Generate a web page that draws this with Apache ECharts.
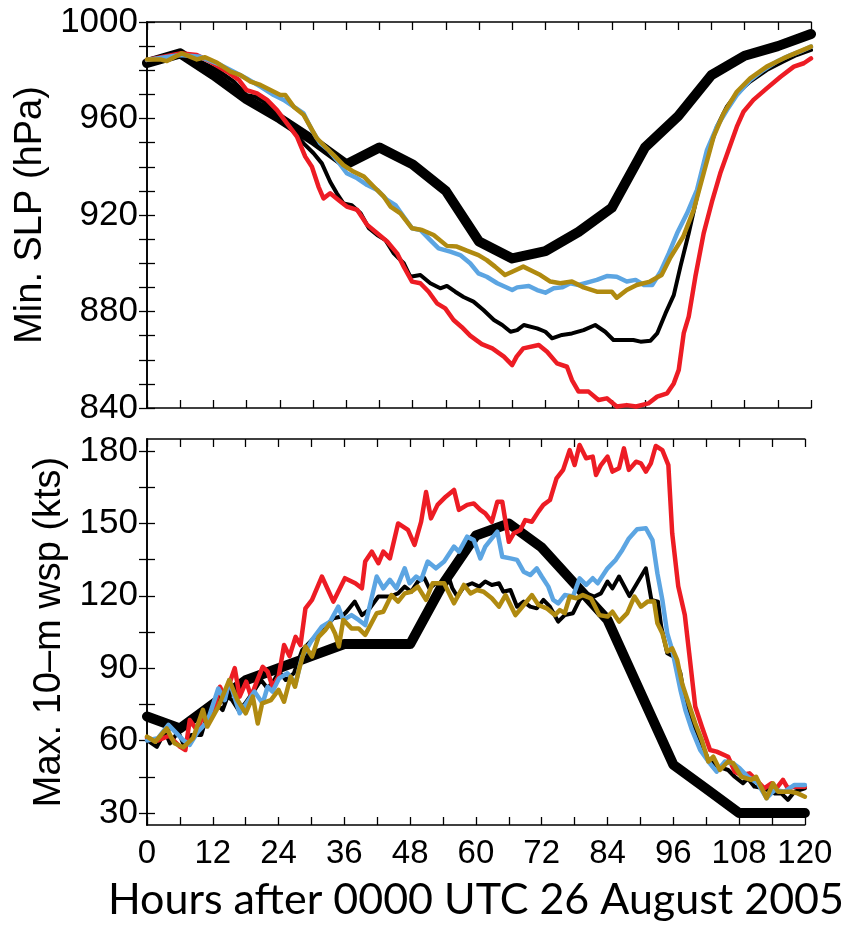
<!DOCTYPE html>
<html><head><meta charset="utf-8">
<script src="https://cdn.jsdelivr.net/npm/echarts@6/dist/echarts.min.js"></script>
<style>html,body{margin:0;padding:0;background:#fff}#c{width:846px;height:929px}</style>
</head><body><div id="c"></div>
<script>
// ---------- DATA ----------
const bestHours = [0,6,12,18,24,30,36,42,48,54,60,66,72,78,84,90,96,102,108,114,120];
const slpBest = [983,987,978,968,960,951,941,948,941,930,909,902,905,913,923,948,961,978,986,990,995];
const wspBest = [70,65,75,85,90,95,100,100,100,125,145,150,140,125,110,80,50,40,30,30,30];

// [hour, hPa]
const slpBlack = [[0,983.6],[6,986.3],[9.6,983.6],[12.7,980.1],[15.7,975.3],[18,969.7],[19.6,969],[21.1,967],[22.9,963.5],[24.7,960],[26.5,954.5],[28.3,949.7],[30.1,945.6],[31.6,941.4],[33.1,933.8],[34.3,929],[35.5,924.8],[37,924.1],[38.6,920.7],[40.1,914.5],[41.6,911.7],[43.1,909.6],[44.6,904.1],[46.4,900],[47.6,894.4],[49.4,895.1],[51.2,891.7],[53,889.6],[54.2,890.6],[55.7,888.2],[57.2,886],[59,884.1],[60.8,880.6],[62.7,876.5],[64.2,874.4],[65.7,871.6],[66.9,872.3],[68.1,874.4],[70.5,873],[72,871.6],[73.2,868.9],[75,870.3],[76.8,870.9],[78.9,872.3],[81,874.4],[82.8,871.6],[84.3,868.2],[86.1,868.2],[87.9,868.2],[89.2,867.5],[91,867.9],[92.2,870.9],[93.7,879.2],[95.2,886.8],[96.4,898.6],[97.9,912.4],[99.4,927.6],[101.2,944.2],[103,956.6],[104.8,964.9],[106.6,970.4],[109,975.3],[112,980.1],[115,983.6],[117.4,986.3],[120,988.4]];
const slpRed = [[0,984.3],[6,987],[9,986.3],[11.4,983.6],[14.5,979.4],[16.6,976],[18,971.8],[19.9,970.4],[21.7,967.7],[23.5,963.5],[25.3,958],[27.1,952.5],[28.6,944.2],[29.8,940],[31,931.7],[31.9,926.9],[33.1,929],[34.6,926.2],[36.1,923.5],[38,922.1],[39.8,915.9],[41.6,912.4],[43.4,909],[45.2,904.1],[46.4,898.6],[47.9,892.4],[49.4,891.7],[50.9,888.2],[52.4,883.4],[53.9,881.3],[55.4,876.5],[56.9,873.5],[58.4,870],[60.5,866.5],[62.4,864.7],[64.5,861.3],[66,857.8],[66.8,861.3],[68,864.7],[70.8,866.1],[72.3,863.3],[74.1,858.5],[75.9,857.1],[76.8,851.6],[78,846.8],[79.8,846.8],[81.6,843.3],[83.1,844],[84.9,840.6],[86.7,841.2],[88.4,840.6],[90.6,841.9],[92.2,844.7],[94,846.1],[95.2,850.2],[96.1,855.8],[97,871],[97.9,877.9],[99.1,894.4],[100.6,912.4],[102.1,925.5],[103.6,937.3],[105.1,946.9],[106.6,956.6],[107.8,962.8],[109.6,967.7],[112,972.5],[114.5,977.3],[116.9,981.5],[118.7,982.9],[120,984.9]];
const slpBlue = [[0,984.3],[6,986.3],[9.6,985.6],[13.3,982.2],[15.7,979.4],[18,976.6],[20.5,973.2],[22.9,969.7],[24.7,967.7],[26.5,964.9],[28.3,962.1],[29.8,955.2],[31.3,949.7],[32.8,946.9],[34.3,942.8],[36.1,937.3],[38,935.2],[39.8,932.4],[41.6,930.4],[43.4,926.2],[44.9,924.1],[46.4,919.3],[47.9,914.5],[49.4,913.8],[51.2,909.6],[52.7,906.2],[54.8,904.8],[56.6,903.4],[58.4,900],[59.9,895.8],[61.4,894.4],[63.3,891.7],[66,888.9],[66.9,890],[69,890.6],[70.5,888.9],[72,887.8],[73.5,889.6],[75,890],[76.5,891.7],[78,891],[79.5,892],[81.3,893.1],[83.1,894.7],[84.9,894.4],[86.7,892.4],[88.3,893.1],[89.8,891],[91.3,891],[92.8,896.5],[94.3,904.1],[95.8,912.4],[97.6,920.7],[99.4,930.4],[101.2,946.9],[103,956.6],[104.8,963.5],[106.6,969.7],[109,975.9],[111.4,980.1],[113.8,983.6],[116.3,986.3],[118,987.7],[120,989.8]];
const slpGold = [[0,984.5],[2.4,984.5],[3.6,983.8],[6.3,987],[9,984.5],[10.5,985.4],[12.7,983.1],[15.1,979.4],[16.9,978],[18.7,975.3],[20.5,973.9],[22.3,971.8],[24.1,969.7],[25,969.7],[26.5,964.9],[28.3,961.5],[29.5,956.6],[30.7,951.8],[32.2,948.3],[33.7,944.9],[35.5,940.7],[37.3,938],[39.2,935.9],[41,931.7],[42.8,927.6],[44,923.5],[45.8,920.7],[47.9,914.5],[49.7,913.8],[51.8,911.7],[54.2,907.2],[56,906.9],[57.8,905.2],[59.9,903.4],[61.4,901.3],[62.9,898.6],[64.7,895.1],[66,896.5],[68,898.6],[69.9,896.5],[71.1,895.1],[72.9,892.4],[74.7,891.7],[76.8,892.4],[78.9,890],[81.3,888.2],[84,888.2],[84.9,885.7],[86.7,888.9],[88.5,891],[90.9,892.4],[93,895.1],[94.5,902],[96.9,911],[98.8,922.1],[100.6,937.3],[102.4,952.5],[104.2,962.1],[106.6,971.1],[109,976.6],[112,981.5],[115,984.9],[117.4,987.3],[120,989.8]];

// [hour, kts]
const wspBlack = [[0,60.2],[1.8,57.4],[3.3,63.7],[4.2,58.8],[5.7,63.7],[6.6,58.8],[8.1,62.3],[9.9,62.3],[10.8,69.2],[12.6,75.4],[13.8,72.6],[14.7,78.2],[15.5,76.8],[16.7,72.6],[17.9,75.4],[19.6,80.9],[20.8,85.1],[22,81.6],[23.2,85.1],[24.1,88.6],[25.3,85.1],[26.8,87.9],[28.3,97.5],[30.1,101.7],[31.9,105.8],[34,110.7],[35.5,111.4],[36.4,113.4],[37.9,117.6],[39.2,112],[40.4,114.1],[42.2,119.7],[44.3,119.7],[45.8,121],[47,123.8],[48.2,121.7],[49.4,125.9],[50.6,127.3],[51.5,123.1],[52.7,125.2],[53.6,124.5],[54.8,129.3],[55.7,123.1],[56.6,119.7],[57.8,123.8],[59.3,125.2],[60.6,123.8],[61.7,125.9],[62.9,124.5],[64.2,125.2],[65,121.7],[66.3,122.4],[67.5,115.5],[68.7,117.6],[69.9,115.5],[71.1,114.8],[72.3,118.3],[73.5,115.5],[75,109.3],[76.2,112],[77.7,112.8],[78.9,118.3],[80.1,121],[81.6,119.7],[82.8,121],[84,125.9],[84.9,123.1],[86.1,128],[88,119.9],[89.2,124.5],[91,131.4],[92,118.3],[93.2,117.6],[93.8,107.2],[94.9,96.2],[96.1,94.8],[97.3,87.9],[98.2,75.4],[99.4,68.5],[100.9,60.2],[102.4,52],[104.2,49.2],[106,47.8],[107.2,45],[108.7,42.3],[109.6,44.3],[110.8,40.9],[112.6,40.2],[114.5,38.1],[115.7,38.1],[116.9,35.4],[118.1,38.8],[120,40.2]];
const wspRed = [[0,61],[2,60],[4,62],[6,57.5],[7,56.1],[7.8,68.5],[9.3,63.7],[9.9,69.2],[11.1,67.8],[12,71.3],[13.3,82.3],[14.2,78.2],[16,90],[16.9,78.2],[18.1,84.4],[19,78.2],[19.9,83.7],[21.1,90.6],[22,88.6],[22.9,82.3],[24,86.5],[25,99.6],[26,95],[27.1,103],[28,99.6],[28.9,114.8],[30.1,118.3],[31.9,128],[34,117.6],[36.1,127.3],[38,125.2],[39.2,123.1],[39.8,134.2],[41,138.3],[42.2,133.5],[43.1,138.3],[44.3,135.5],[45.8,150],[47.6,147.3],[48.8,141.1],[50,150.7],[50.9,163],[51.8,152.1],[53,157.7],[54.5,161.1],[56,163.9],[56.9,155.6],[58.4,157.7],[59.6,158.3],[60.8,155.6],[61.7,154.2],[62.9,150.7],[63.9,159],[64.8,159],[66,142.4],[66.9,145.9],[68.1,147.3],[69,151.4],[70.2,150.7],[71.4,154.9],[72.3,157.7],[73.5,159.7],[74.7,168.7],[75.9,172.2],[77.1,180.4],[78,174.2],[78.9,182.5],[80.1,177],[81.3,177.7],[81.9,170.1],[82.8,174.2],[84,177.7],[84.9,171.5],[86.1,172.9],[87,181.1],[87.9,172.2],[89.2,175.6],[90.1,174.9],[91,171.5],[91.9,174.9],[92.8,182.1],[94,180.4],[95.1,174.2],[95.8,145.9],[96.9,124],[98.1,112],[98.9,96.2],[100,74.1],[101.2,65.8],[102.7,56.1],[103.9,55.4],[106,53.3],[107.2,47.1],[108.4,45.7],[109.9,46.4],[111.1,43.7],[112.6,40.2],[113.9,42.3],[114.8,40.2],[116,43.7],[116.9,40.2],[118.1,40.9],[120,40.9]];
const wspBlue = [[0,60],[2,61],[3.9,66.5],[6.6,60.2],[7.8,58.2],[9.3,63.7],[11,67.8],[13,81.6],[14.2,76.8],[15,85],[16.9,71.3],[18.1,75.4],[19.6,80.3],[21.1,75.4],[22,82.3],[22.9,80.3],[24.1,85.8],[25.6,87.9],[27.1,83.7],[28.3,94.8],[30.1,101.7],[31.9,107.2],[33.4,109.3],[34.9,115.5],[35.8,110],[37.3,112],[38.6,110],[39.8,107.9],[41.9,128],[43.1,123.1],[44.3,126.6],[45.5,123.1],[47,131.4],[47.9,125.2],[49.1,128],[50,126.6],[51.2,134.2],[52.7,131.4],[54.2,134.2],[56,140.4],[56.9,138.3],[58.4,144.5],[59.6,143.1],[60.8,135.5],[61.7,140.4],[62.9,143.8],[63.9,146.6],[64.8,136.2],[66.3,135.5],[67.5,134.9],[68.7,130],[69.9,128.6],[71.1,131.4],[72,128],[73.2,123.8],[74.1,118.3],[75,116.9],[76.2,120.3],[77.7,119.7],[78.9,127.2],[80.1,124.5],[81.3,127.3],[82.2,125.2],[84,131.4],[85.5,134.9],[86.7,139],[87.9,143.8],[89.4,147.6],[91,148],[92.2,143.1],[93.1,129.3],[94,118.3],[94.9,104.4],[95.8,97.5],[97.3,81],[98.2,72.7],[99.4,64.4],[100.9,56.1],[102.4,51.3],[103.9,47.1],[105.4,51.3],[106.9,50.6],[108.1,48.5],[109.6,45],[111.4,42.3],[113,36.1],[114.5,39.5],[116.3,38.8],[118.1,41.6],[120,41.6]];
const wspGold = [[0,61.6],[1.5,59.5],[3.6,65],[5,58.9],[6.6,57.2],[8.4,61],[10.2,72.7],[11,65.8],[13,74],[15,85.1],[16.5,76.8],[18,71.3],[19.3,78.2],[20.2,67.1],[21,75.4],[22.6,76.8],[24,81],[25,76.1],[26.2,86.5],[27,82.3],[27.7,89.2],[28.9,99],[30.1,94.8],[31.3,103],[32.5,105.8],[33.4,108.6],[34.3,104.4],[35,99],[35.8,110],[37.3,106.5],[38.6,106.5],[39.8,103.8],[41.9,112.8],[43.1,113.4],[44.6,120.3],[45.8,117.6],[47,121],[48.2,121.7],[49.4,123.8],[50.9,118.3],[52.1,125.2],[54.2,125.2],[56,116.9],[57.8,124.5],[59,121],[60.2,122.4],[61.4,121.7],[62.9,119],[64.2,115.5],[65.4,120.3],[67.2,112],[69,116.9],[70.2,120.3],[71.4,116.2],[72.9,114.8],[74.4,112],[75.3,114.1],[76.2,112.8],[77.1,119.7],[78.3,119],[79.5,120.3],[81,118.9],[82.5,112],[84,111.4],[84.9,113.4],[86.1,109.3],[87.6,112.8],[88.9,119.7],[90.1,115.5],[91.3,117.6],[92.5,117.6],[93.1,108.6],[94,104.5],[94.9,96.9],[95.8,98.2],[96.7,93.4],[97.6,83.7],[98.8,75.4],[100,67.2],[101.2,60.2],[102.4,51.3],[103.3,53.3],[104.5,47.8],[106,51.3],[106.9,50.6],[108.4,45],[110.2,43.7],[111.1,45],[112,40.9],[113,36.1],[114.2,42.3],[115.1,38.8],[116.3,38.8],[117.5,38.8],[118.7,38.1],[120,36.7]];

const xTickLabels = [0,12,24,36,48,60,72,84,96,108,120];
const slpTickLabels = [840,880,920,960,1000];
const wspTickLabels = [30,60,90,120,150,180];
const yNameTop = 'Min. SLP (hPa)';
const yNameBottom = 'Max. 10\u2013m wsp (kts)';
const xName = 'Hours after 0000 UTC 26 August 2005';

// ---------- CHART ----------
const RED = '#ED1C24', BLUE = '#5CA5E2', GOLD = '#B08A10', BLACK = '#000';
const steps = (a, b, s) => { const r = []; for (let v = a; v <= b + 1e-9; v += s) r.push(v); return r; };
const xTicks = steps(0, 120, 6);
const slpTicks = steps(840, 1000, 10);
const wspTicks = steps(30, 180, 15);

const frame = {show:true, lineStyle:{color:'#000', width:1.6}};
const tickStyle = {color:'#000', width:1.3};
const yFont = {fontFamily:'Liberation Sans, Arial, sans-serif', fontSize:35, color:'#000'};
const xFont = {fontFamily:'Liberation Sans, Arial, sans-serif', fontSize:33, color:'#000'};
const plain = v => String(Math.round(v));

function xAx(grid, pos, labels, name) {
  const a = {type:'value', gridIndex:grid, position:pos, min:0, max:120, interval:6,
    axisLine:frame, splitLine:{show:false},
    axisTick:{show:true, inside:true, length:8, lineStyle:tickStyle, customValues:xTicks},
    axisLabel: labels ? Object.assign({show:true, margin:12, customValues:xTickLabels, formatter:plain}, xFont) : {show:false}};
  if (name) {
    a.name = name; a.nameLocation = 'middle'; a.nameGap = 54;
    a.nameTextStyle = {fontFamily:'Lato, sans-serif', fontSize:43, color:'#000'};
  }
  return a;
}
function yAx(grid, pos, min, max, ticks, labelsArr, name, gap) {
  const a = {type:'value', gridIndex:grid, position:pos, min:min, max:max,
    axisLine:frame, splitLine:{show:false},
    axisTick:{show:true, inside:true, length:8, lineStyle:tickStyle, customValues:ticks},
    axisLabel: labelsArr ? Object.assign({show:true, margin:9, customValues:labelsArr, formatter:plain}, yFont) : {show:false}};
  if (name) {
    a.name = name; a.nameLocation = 'middle'; a.nameGap = gap; a.nameRotate = 90;
    a.nameTextStyle = {fontFamily:'Liberation Sans, Arial, sans-serif', fontSize:38, color:'#000'};
  }
  return a;
}

function line(data, color, width, xi, yi, z) {
  return {type:'line', data:data, xAxisIndex:xi, yAxisIndex:yi, showSymbol:false, symbol:'none',
    smooth:false, clip:true, z:z, lineStyle:{color:color, width:width, cap:'round', join:'round'},
    itemStyle:{color:color}, emphasis:{disabled:true}, silent:true};
}
const pair = (h, v) => h.map((t,i) => [t, v[i]]);

const option = {
  animation:false, backgroundColor:'#fff',
  grid:[{left:147, top:22, width:664, height:386},{left:147, top:439, width:664, height:386}],
  xAxis:[xAx(0,'bottom',false), xAx(0,'top',false), xAx(1,'bottom',true,xName), xAx(1,'top',false)],
  yAxis:[yAx(0,'left',840,1000,slpTicks,slpTickLabels,yNameTop,91), yAx(0,'right',840,1000,slpTicks,null),
         yAx(1,'left',25,185,wspTicks,wspTickLabels,yNameBottom,72), yAx(1,'right',25,185,wspTicks,null)],
  series:[
    line(pair(bestHours, slpBest), BLACK, 10, 0, 0, 2),
    line(slpBlack, BLACK, 4, 0, 0, 3),
    line(slpRed, RED, 4.5, 0, 0, 4),
    line(slpBlue, BLUE, 4.5, 0, 0, 5),
    line(slpGold, GOLD, 4.5, 0, 0, 6),
    line(pair(bestHours, wspBest), BLACK, 10, 2, 2, 2),
    line(wspBlack, BLACK, 4, 2, 2, 3),
    line(wspRed, RED, 4.5, 2, 2, 4),
    line(wspBlue, BLUE, 4.5, 2, 2, 5),
    line(wspGold, GOLD, 4.5, 2, 2, 6)
  ]
};
const chart = echarts.init(document.getElementById('c'), null, {renderer:'canvas', width:846, height:929});
chart.setOption(option);
</script></body></html>
